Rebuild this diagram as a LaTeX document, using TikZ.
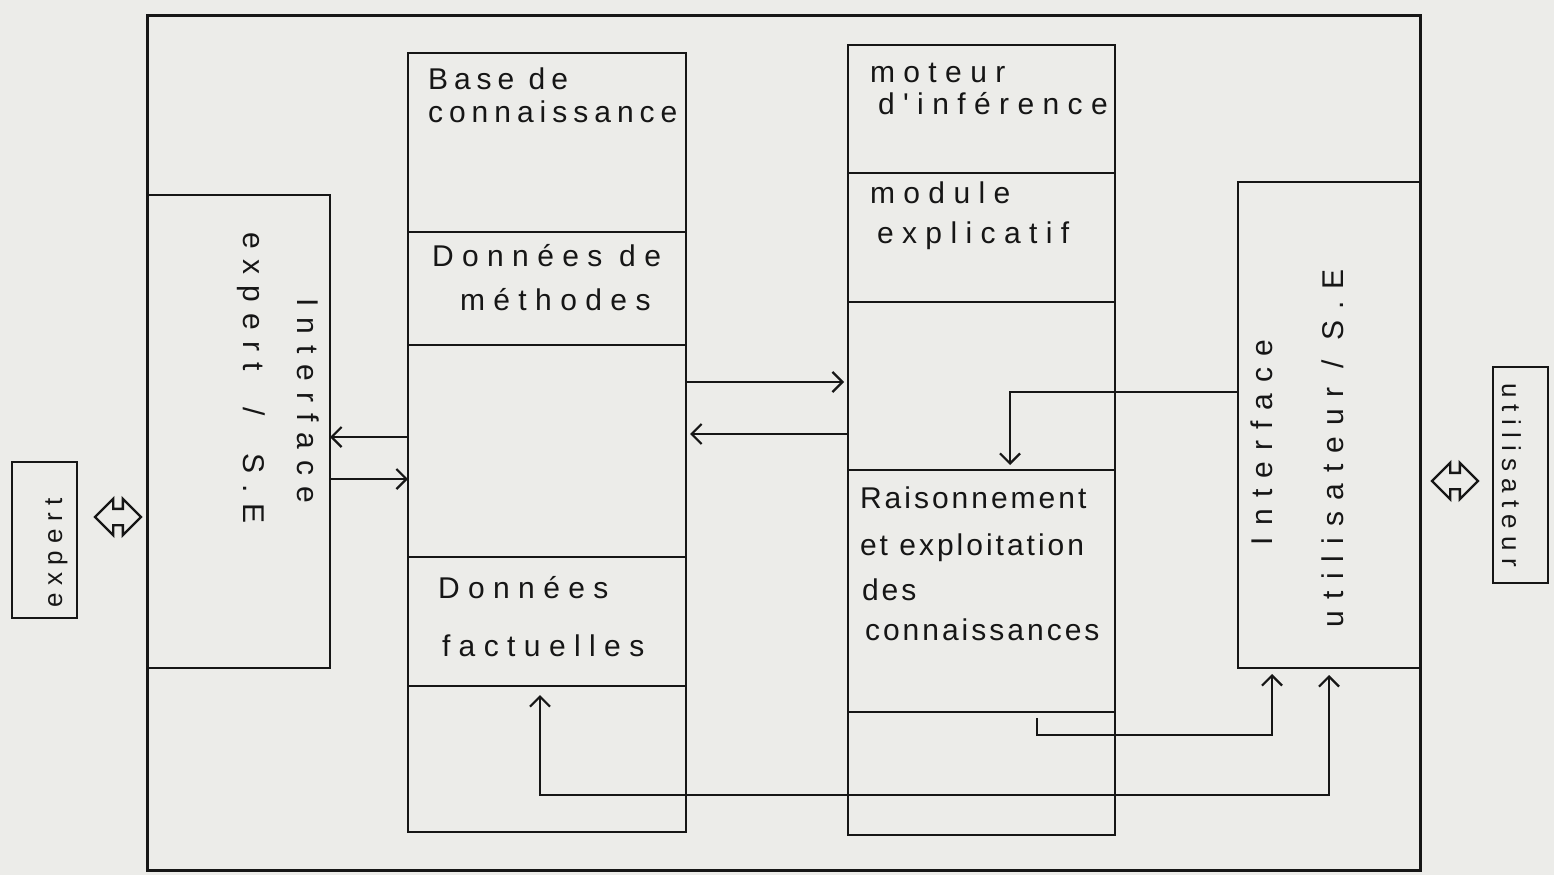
\documentclass[tikz,border=0pt]{standalone}
\usepackage{fontspec}
\setmainfont{Liberation Sans}
\newfontfamily\handA[LetterSpace=20]{Liberation Sans}
\newfontfamily\handB[LetterSpace=28]{Liberation Sans}
\newfontfamily\handC[LetterSpace=10]{Liberation Sans}
\newfontfamily\handD[LetterSpace=37]{Liberation Sans}
\usetikzlibrary{arrows.meta,shapes.arrows}
\definecolor{paper}{RGB}{236,236,233}
\definecolor{ink}{RGB}{22,22,22}
\begin{document}
\begin{tikzpicture}[x=1pt,y=-1pt,
  box/.style={draw=ink,line width=2.6pt,inner sep=0pt,outer sep=0pt,anchor=north west},
  txt/.style={inner sep=0pt,outer sep=0pt,anchor=base west,text=ink},
  fa/.style={txt,font=\handA\fontsize{30}{30}\selectfont},
  fb/.style={txt,font=\handB\fontsize{30}{30}\selectfont},
  fc/.style={txt,font=\handC\fontsize{30}{30}\selectfont},
  fd/.style={txt,font=\handD\fontsize{30}{30}\selectfont},
  fs/.style={txt,font=\handB\fontsize{26}{26}\selectfont},
  arr/.style={draw=ink,line width=2.2pt,-{Straight Barb[length=10pt,width=20pt,line width=2.2pt]}},
  darr/.style={draw=ink,line width=2.2pt,{Straight Barb[length=10pt,width=20pt,line width=2.2pt]}-{Straight Barb[length=10pt,width=20pt,line width=2.2pt]}},
  darrow/.style={double arrow,draw=ink,line width=2.4pt,inner xsep=0pt,inner ysep=7pt,
    double arrow head extend=10pt,double arrow head indent=0pt,minimum height=46pt}
]
\fill[paper] (0,0) rectangle (1554,875);
\useasboundingbox (0,0) rectangle (1554,875);

% frame
\node[box,minimum width=1273pt,minimum height=854pt,line width=3pt] (frame) at (147,16) {};
% interfaces
\node[box,minimum width=183pt,minimum height=473pt] (ifexp) at (147,195) {};
\node[box,minimum width=182pt,minimum height=486pt] (ifuser) at (1238,182) {};
% knowledge base column
\node[box,minimum width=278pt,minimum height=179pt] (kb1) at (408,53) {};
\node[box,minimum width=278pt,minimum height=113pt] (kb2) at (408,232) {};
\node[box,minimum width=278pt,minimum height=212pt] (kb3) at (408,345) {};
\node[box,minimum width=278pt,minimum height=129pt] (kb4) at (408,557) {};
\node[box,minimum width=278pt,minimum height=146pt] (kb5) at (408,686) {};
% engine column
\node[box,minimum width=267pt,minimum height=128pt] (me1) at (848,45) {};
\node[box,minimum width=267pt,minimum height=129pt] (me2) at (848,173) {};
\node[box,minimum width=267pt,minimum height=168pt] (me3) at (848,302) {};
\node[box,minimum width=267pt,minimum height=242pt] (me4) at (848,470) {};
\node[box,minimum width=267pt,minimum height=123pt] (me5) at (848,712) {};
% actors
\node[box,minimum width=65pt,minimum height=156pt] (expert) at (12,462) {};
\node[box,minimum width=55pt,minimum height=216pt] (user) at (1493,367) {};

% texts
\node[fa] (t1a) at (428,89) {Base de};
\node[fa] (t1b) at (428,122) {connaissance};
\node[fb] (t2a) at (432,266) {Données de};
\node[fb] (t2b) at (460,310) {méthodes};
\node[fb] (t3a) at (438,598) {Données};
\node[fb] (t3b) at (442,656) {factuelles};
\node[fb] (t4a) at (870,82) {moteur};
\node[fb] (t4b) at (878,114) {d'inférence};
\node[fb] (t5a) at (870,203) {module};
\node[fb] (t5b) at (877,243) {explicatif};
\node[fc] (t6a) at (860,508) {Raisonnement};
\node[fc] (t6b) at (860,555) {et exploitation};
\node[fc] (t6c) at (862,600) {des};
\node[fc] (t6d) at (865,640) {connaissances};

\node[fd,rotate=-90] (ie1) at (297,298) {Interface};
\node[fd,rotate=-90] (ie2) at (243,232) {expert\hspace{37pt}/\hspace{37pt}S.E};
\node[fd,rotate=90] (iu1) at (1272,545) {Interface};
\node[fd,rotate=90] (iu2) at (1343,627) {utilisateur / S.E};
\node[fs,rotate=-90] (tuser) at (1502,383) {utilisateur};
\node[fs,rotate=90] (texpert) at (62,607) {expert};

% double arrows
\node[darrow] (dleft) at (118,517) {};
\node[darrow] (dright) at (1455,481) {};

% connectors
\draw[arr,shorten >=4pt] ([yshift=69pt]kb3.east) -- ([yshift=69pt]kb3.east -| me3.west);
\draw[arr,shorten >=4pt] ([yshift=-48pt]me3.west) -- ([yshift=-48pt]me3.west -| kb3.east);
\draw[arr] ([yshift=14pt]kb3.west) -- ([yshift=14pt]kb3.west -| ifexp.east);
\draw[arr] ([yshift=-47.5pt]ifexp.east) -- ([yshift=-47.5pt]ifexp.east -| kb3.west);
\draw[arr,shorten >=5pt] ([yshift=33pt]ifuser.west) -| ([xshift=28.5pt]me4.north);
\coordinate (c1) at (1037,718);
\coordinate (c1b) at (1037,735);
\draw[arr,shorten >=6pt] (c1) -- (c1b) -| ([xshift=-57pt]ifuser.south);
\coordinate (c2) at (1329,795);
\draw[darr,shorten <=9pt,shorten >=7pt] ([xshift=-7pt]kb4.south) |- (c2) -- (ifuser.south);
\end{tikzpicture}
\end{document}
